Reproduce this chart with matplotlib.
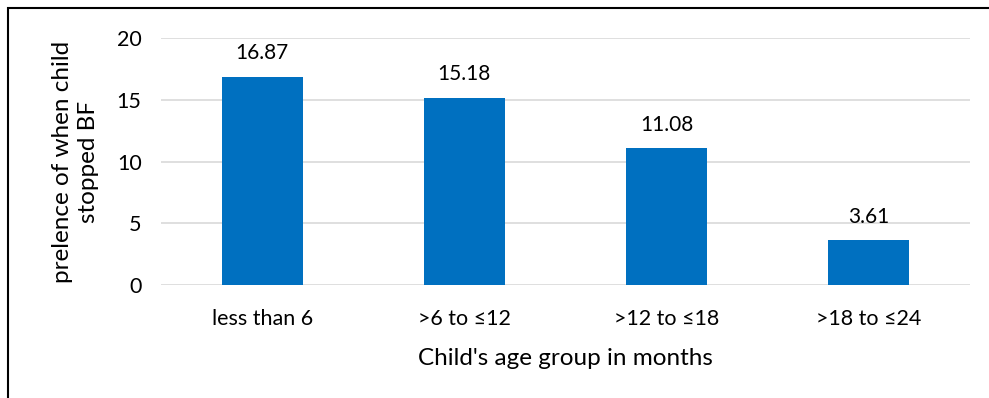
import matplotlib
matplotlib.use("Agg")
import matplotlib.pyplot as plt
from matplotlib.patches import Rectangle

categories = ["less than 6", ">6 to \u226412", ">12 to \u226418", ">18 to \u226424"]
values = [16.87, 15.18, 11.08, 3.61]
yticks = [0, 5, 10, 15, 20]

plt.rcParams['font.family'] = ['Lato', 'DejaVu Sans']

fig = plt.figure(figsize=(9.89, 3.98), dpi=100)
ax = fig.add_axes([161/989, 1-285/398, (970-161)/989, (285-38)/398])

x = range(len(categories))
bars = ax.bar(x, values, width=0.4, color="#0070C0", zorder=3)
for xi, v in zip(x, values):
    ax.text(xi, v + 1.1, f"{v:.2f}", ha="center", va="bottom", fontsize=15, color="#000000")

ax.set_xlim(-0.5, len(categories) - 0.5)
ax.set_ylim(0, 20)
ax.set_yticks(yticks)
ax.set_xticks(list(x))
ax.set_xticklabels(categories, fontsize=15.5)
ax.tick_params(axis="y", labelsize=15.5, length=0, pad=14)
ax.tick_params(axis="x", length=0, pad=17)
ax.grid(axis="y", color="#D9D9D9", linewidth=1.2, zorder=0)
for s in ax.spines.values():
    s.set_visible(False)

ax.set_xlabel("Child's age group in months", fontsize=17.5, labelpad=14)
ax.set_ylabel("prelence of when child\nstopped BF", fontsize=17.5, labelpad=13, linespacing=1.3)

fig.patches.append(Rectangle((8/989, -0.5), 1.5, 0.5 + 1 - 8/398, transform=fig.transFigure,
                             fill=False, edgecolor="#000000", linewidth=1.5))

fig.savefig("out.png", dpi=100)
